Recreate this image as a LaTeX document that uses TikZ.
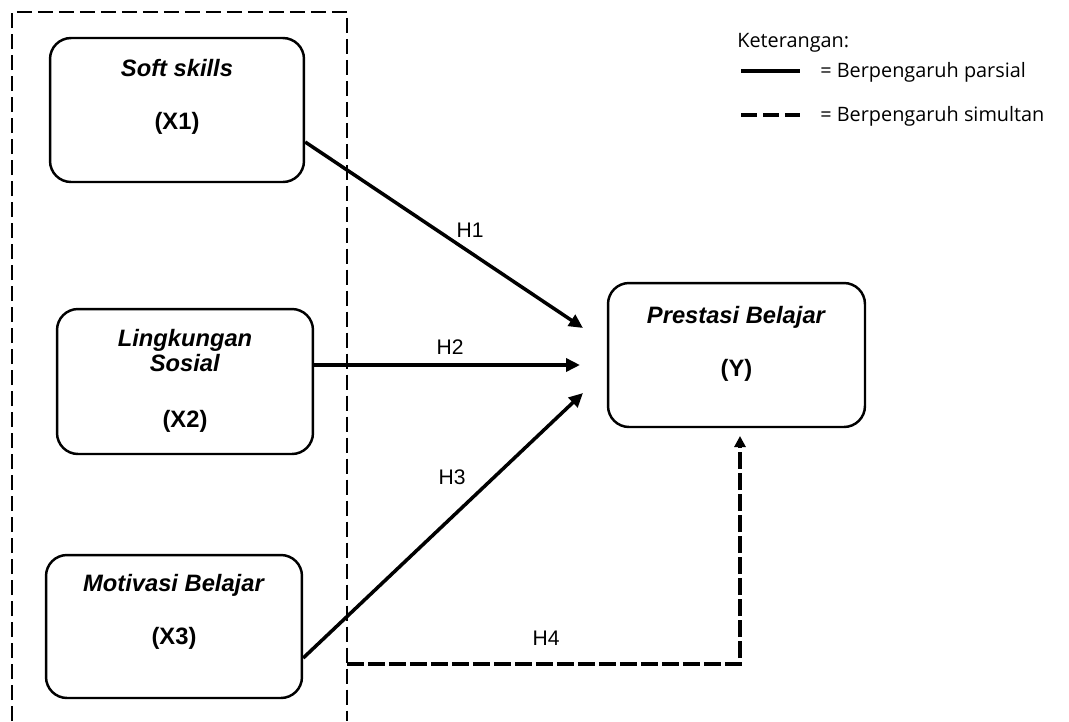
\documentclass[tikz,border=0pt]{standalone}
\usepackage{fontspec}
\setmainfont{Liberation Sans}
\newfontfamily\legendfont{Open Sans}
\usetikzlibrary{arrows.meta,calc}

\tikzset{
  varbox/.style={draw, line width=1.4pt, rounded corners=0.42cm, align=center,
    font=\fontsize{13.5}{16}\selectfont\bfseries},
  hyp/.style={line width=2pt, -{Triangle[length=0.28cm,width=0.26cm]}},
  simul/.style={line width=2pt, dash pattern=on 0.34cm off 0.08cm},
  frame/.style={line width=1.6pt, dash pattern=on 0.3cm off 0.12cm},
  hlabel/.style={font=\fontsize{12}{14}\selectfont},
  legendtext/.style={font=\legendfont\fontsize{11.3}{13}\selectfont, anchor=west, inner sep=0pt}
}

\begin{document}
\begin{tikzpicture}[x=0.02cm, y=-0.02cm]
\useasboundingbox (0,0) rectangle (1069,721);
% Variabel bebas (X)
\node[varbox, minimum width=5.08cm, minimum height=2.88cm, text depth=0.62cm] (x1) at (177,110)
  {\textit{Soft skills}\\[0.5cm](X1)};
\node[varbox, minimum width=5.12cm, minimum height=2.9cm, text depth=0.12cm] (x2) at (185,381.5)
  {\textit{Lingkungan}\\[-0.06cm]\textit{Sosial}\\[0.57cm](X2)};
\node[varbox, minimum width=5.12cm, minimum height=2.86cm, text depth=0.7cm] (x3) at (174,626.5)
  {\textit{Motivasi Belajar}\\[0.5cm](X3)};
% Variabel terikat (Y)
\node[varbox, minimum width=5.14cm, minimum height=2.88cm, text depth=0.56cm] (y) at (736.5,355)
  {\textit{Prestasi Belajar}\\[0.5cm](Y)};
% Kotak simultan
\coordinate (frameBL) at (12,721);
\coordinate (frameTR) at (347,12);
\coordinate (frameBR) at (347,721);
\draw[frame] (frameBL) |- (frameTR) -- (frameBR);
% Hipotesis parsial
\coordinate (h1end) at (583,328);
\coordinate (h2end) at (580,365);
\coordinate (h3end) at (583,393);
\draw[hyp] ($(x1.east)+(0,32)$) -- (h1end);
\draw[hyp] ($(x2.east)+(0,-16.5)$) -- (h2end);
\draw[hyp] ($(x3.east)+(0,31.5)$) -- (h3end);
\node[hlabel] (h1) at (470,230) {H1};
\node[hlabel] (h2) at (450,347) {H2};
\node[hlabel] (h3) at (452,477) {H3};
% Hipotesis simultan
\coordinate (h4start) at (347,664);
\coordinate (h4end) at (740,436);
\draw[simul] (h4start) -| ($(h4end)+(0,6)$);
\draw[line width=2pt, -{Triangle[length=0.22cm,width=0.22cm]}] ($(h4end)+(0,8)$) -- (h4end);
\node[hlabel] (h4) at (546,638) {H4};
% Keterangan
\node[legendtext] (ket) at (737,43) {Keterangan:};
\coordinate (solidA) at (741,71);
\coordinate (solidB) at (800,71);
\coordinate (dashA) at (741,115);
\coordinate (dashB) at (800,115);
\draw[line width=1.8pt] (solidA) -- (solidB);
\draw[line width=1.8pt, dash pattern=on 0.32cm off 0.12cm] (dashA) -- (dashB);
\node[legendtext] (parsial) at (820,72) {= Berpengaruh parsial};
\node[legendtext] (simultan) at (820,116) {= Berpengaruh simultan};
\end{tikzpicture}
\end{document}
